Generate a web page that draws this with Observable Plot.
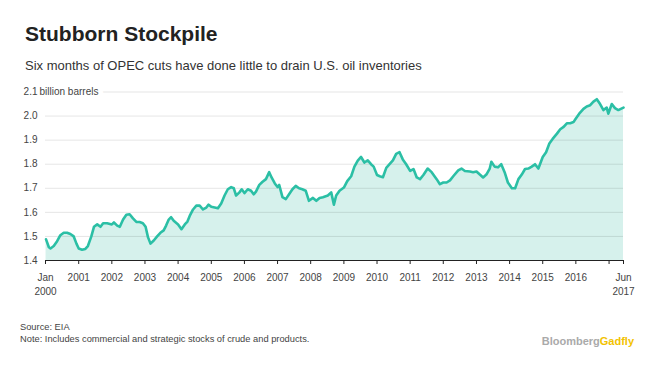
<!DOCTYPE html>
<html><head><meta charset="utf-8">
<script src="https://cdn.jsdelivr.net/npm/d3@7"></script>
<script src="https://cdn.jsdelivr.net/npm/@observablehq/plot@0.6"></script>
<style>
body{margin:0;background:#fff;font-family:"Liberation Sans",Arial,sans-serif;}
#wrap{position:relative;width:660px;height:372px;overflow:hidden;background:#fff;}
.t{position:absolute;white-space:nowrap;line-height:1;}
#title{left:25px;top:23px;font-size:21px;font-weight:bold;color:#222;}
#sub{left:25px;top:58.5px;font-size:13px;color:#333;}
#chart{position:absolute;left:0;top:80px;}
#src{left:20px;top:323px;font-size:9.3px;color:#444;}
#note{left:20px;top:335px;font-size:9.3px;color:#444;}
#brand{right:26px;top:335.5px;font-size:11px;font-weight:bold;color:#aaa;}
#brand span{color:#f2c200;}
</style></head>
<body><div id="wrap">
<div class="t" id="title">Stubborn Stockpile</div>
<div class="t" id="sub">Six months of OPEC cuts have done little to drain U.S. oil inventories</div>
<div id="chart"></div>
<div class="t" id="src">Source: EIA</div>
<div class="t" id="note">Note: Includes commercial and strategic stocks of crude and products.</div>
<div class="t" id="brand">Bloomberg<span>Gadfly</span></div>
</div>
<script>
const dates = ["2000-01-07","2000-02-07","2000-02-25","2000-04-01","2000-05-08","2000-06-13","2000-07-20","2000-08-26","2000-10-01","2000-11-07","2000-12-07",
"2001-01-01","2001-02-07","2001-03-15","2001-04-12","2001-05-20","2001-06-18","2001-07-24","2001-08-29","2001-09-27","2001-11-10",
"2002-01-01","2002-01-24","2002-03-01","2002-03-30","2002-05-05","2002-06-10","2002-07-16","2002-08-22","2002-09-28","2002-11-03","2002-12-09",
"2003-01-08","2003-02-03","2003-03-03","2003-04-08","2003-05-15","2003-06-20","2003-07-26","2003-08-22","2003-09-20","2003-10-16","2003-11-14",
"2004-01-01","2004-02-07","2004-03-15","2004-04-13","2004-05-08","2004-06-14","2004-07-20","2004-08-26","2004-10-01","2004-11-07","2004-12-02",
"2005-01-01","2005-02-07","2005-03-15","2005-04-20","2005-05-27","2005-07-02","2005-08-08","2005-09-06","2005-10-01","2005-11-07","2005-12-02",
"2006-01-01","2006-02-07","2006-03-15","2006-04-13","2006-05-08","2006-06-14","2006-07-20","2006-08-26","2006-10-01","2006-10-27","2006-12-02",
"2007-01-01","2007-01-19","2007-02-24","2007-04-02","2007-05-08","2007-06-14","2007-07-20","2007-08-26","2007-10-01","2007-11-07","2007-12-13",
"2008-01-26","2008-03-03","2008-04-08","2008-05-15","2008-07-08","2008-08-14","2008-09-13","2008-10-08","2008-11-14",
"2009-01-01","2009-02-07","2009-03-22","2009-04-27","2009-06-03","2009-07-09","2009-08-15","2009-09-21","2009-10-27","2009-11-25",
"2010-01-01","2010-01-31","2010-03-07","2010-04-13","2010-05-19","2010-06-25","2010-07-31","2010-09-06","2010-10-12","2010-11-18",
"2011-01-01","2011-02-07","2011-03-15","2011-04-20","2011-05-27","2011-07-13","2011-08-26","2011-10-20","2011-11-25",
"2012-01-01","2012-02-07","2012-03-15","2012-04-20","2012-06-14","2012-07-20","2012-08-26","2012-10-20","2012-11-25",
"2013-01-01","2013-02-07","2013-03-15","2013-04-20","2013-05-27","2013-06-14","2013-07-20","2013-08-26","2013-10-01","2013-11-07","2013-12-13",
"2014-01-26","2014-03-03","2014-04-08","2014-05-15","2014-06-20","2014-07-26","2014-09-02","2014-10-08","2014-11-14",
"2015-01-01","2015-02-07","2015-03-15","2015-04-20","2015-06-07","2015-07-13","2015-08-19","2015-09-24","2015-10-31","2015-12-06",
"2016-01-01","2016-02-07","2016-03-25","2016-04-30","2016-06-07","2016-07-13","2016-08-19","2016-09-24","2016-10-31","2016-12-06","2016-12-24",
"2017-01-31","2017-03-07","2017-04-13","2017-05-11","2017-06-09"];
const stocks = [1.488,1.455,1.45,1.46,1.48,1.505,1.515,1.515,1.51,1.50,1.47,
1.45,1.445,1.448,1.46,1.50,1.54,1.55,1.54,1.555,1.555,
1.55,1.558,1.545,1.54,1.57,1.59,1.592,1.575,1.56,1.56,1.555,
1.54,1.497,1.47,1.483,1.50,1.515,1.525,1.545,1.57,1.58,1.565,
1.55,1.53,1.55,1.562,1.585,1.612,1.628,1.628,1.612,1.62,1.632,
1.623,1.62,1.617,1.637,1.67,1.696,1.705,1.70,1.67,1.683,1.696,
1.68,1.696,1.69,1.675,1.686,1.714,1.727,1.738,1.767,1.745,1.72,
1.705,1.714,1.663,1.655,1.675,1.696,1.71,1.70,1.696,1.69,1.648,
1.66,1.648,1.66,1.663,1.67,1.683,1.632,1.67,1.69,
1.703,1.73,1.75,1.79,1.815,1.83,1.807,1.816,1.80,1.79,
1.755,1.75,1.746,1.785,1.80,1.816,1.843,1.85,1.82,1.80,
1.772,1.78,1.745,1.738,1.755,1.782,1.767,1.738,1.717,
1.724,1.724,1.733,1.75,1.774,1.782,1.772,1.77,1.767,
1.77,1.757,1.745,1.757,1.782,1.81,1.79,1.787,1.80,1.767,1.724,
1.70,1.70,1.738,1.757,1.78,1.782,1.79,1.80,1.782,
1.83,1.85,1.886,1.905,1.927,1.945,1.955,1.97,1.97,1.975,
1.99,2.01,2.03,2.04,2.045,2.06,2.07,2.05,2.025,2.035,2.01,
2.05,2.033,2.025,2.03,2.035];
const yTicks = [1.4,1.5,1.6,1.7,1.8,1.9,2.0,2.1];
const unitLabel = "billion barrels";
const xTickDates = ["2000-01-01","2001-01-01","2002-01-01","2003-01-01","2004-01-01","2005-01-01","2006-01-01","2007-01-01","2008-01-01","2009-01-01","2010-01-01","2011-01-01","2012-01-01","2013-01-01","2014-01-01","2015-01-01","2016-01-01","2017-01-01","2017-06-09"];
const xTickLabels = ["Jan\n2000","2001","2002","2003","2004","2005","2006","2007","2008","2009","2010","2011","2012","2013","2014","2015","2016","","Jun\n2017"];

const data = dates.map((d,i)=>({date:new Date(d), value:stocks[i]}));
const ticks = xTickDates.map(d=>new Date(d));
const labelMap = new Map(ticks.map((d,i)=>[+d, xTickLabels[i]]));
const xDomain = [ticks[0], ticks[ticks.length-1]];
const base = yTicks[0];

const chart = Plot.plot({
  width: 660, height: 220,
  marginTop: 11.5, marginBottom: 40, marginLeft: 45, marginRight: 37,
  style: {fontFamily: '"Liberation Sans", Arial, sans-serif', background: "transparent"},
  x: {type: "utc", domain: xDomain, label: null},
  y: {domain: [yTicks[0], yTicks[yTicks.length-1]], label: null},
  marks: [
    Plot.areaY(data, {x: "date", y1: d => base, y2: "value", fill: "#d6f1ec"}),
    Plot.ruleY(yTicks.slice(1), {stroke: "#000", strokeOpacity: 0.1}),
    Plot.lineY(data, {x: "date", y: "value", stroke: "#2bbfa5", strokeWidth: 2.6, strokeLinejoin: "round"}),
    Plot.text([{date: xDomain[0], value: yTicks[yTicks.length-1]}], {x: "date", y: "value", text: d => unitLabel, textAnchor: "start", dx: -6, fontSize: 10, fill: "#444", stroke: "white", strokeWidth: 10, paintOrder: "stroke"}),
    Plot.axisY({ticks: yTicks, label: null, tickSize: 0, tickPadding: 8, tickFormat: d => d.toFixed(1), fontSize: 10, fill: "#444"}),
    Plot.ruleY([base], {stroke: "#222", strokeWidth: 1}),
    Plot.axisX({ticks: ticks, label: null, tickSize: 4, tickPadding: 7, tickFormat: d => labelMap.get(+d) ?? "", fontSize: 10, fill: "#444", stroke: "#222", lineHeight: 1.35})
  ]
});
document.getElementById("chart").appendChild(chart);
</script>
</body></html>
